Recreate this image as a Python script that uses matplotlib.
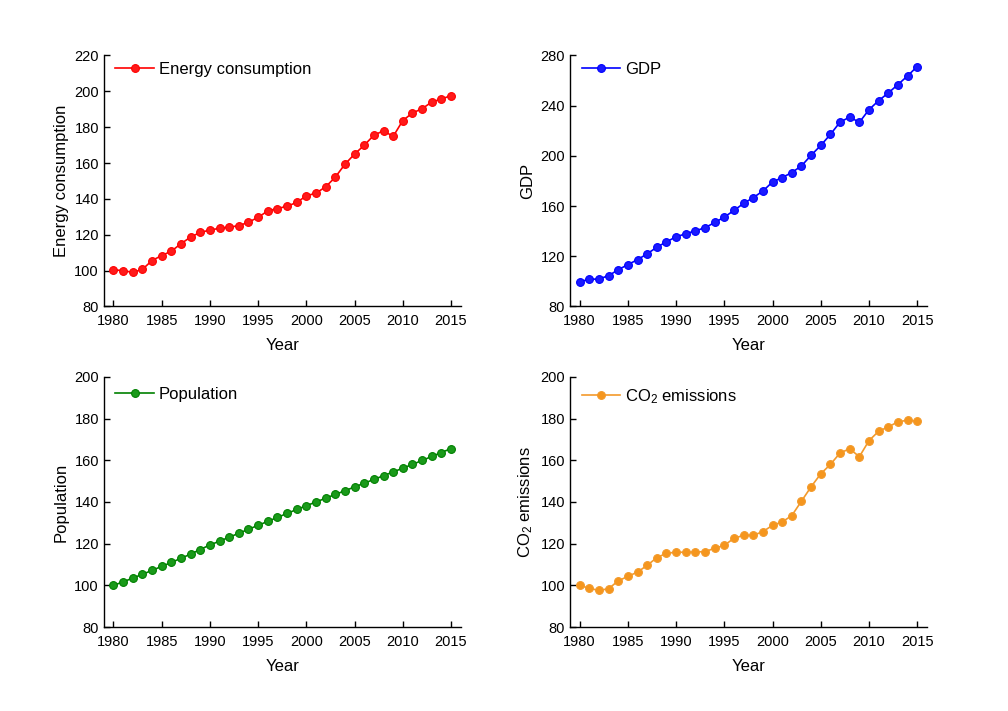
#!/usr/bin/env python3
"""Four panels: energy, GDP, population and CO2 indices, 1980-2015."""

import matplotlib.pyplot as plt

plt.rcParams["font.family"] = ["Liberation Sans", "DejaVu Sans"]
plt.rcParams["mathtext.default"] = "regular"

years = list(range(1980, 2016))

energy = [100.4, 100.0, 99.0, 100.7, 105.6, 108.4, 110.8, 115.0, 118.7, 121.3,
          122.6, 123.6, 124.3, 125.0, 127.0, 129.7, 133.3, 134.6, 135.9, 138.0,
          141.7, 143.2, 146.7, 152.1, 159.3, 165.0, 169.9, 175.5, 178.0, 174.8,
          183.7, 187.9, 190.3, 194.0, 195.7, 197.6]

gdp = [99.7, 101.6, 101.9, 104.5, 109.3, 113.3, 117.3, 121.9, 127.2, 131.5,
       135.5, 137.9, 140.3, 142.7, 146.9, 151.2, 156.5, 162.1, 166.7, 172.0,
       179.2, 182.7, 186.7, 192.0, 200.5, 208.3, 217.1, 226.9, 230.9, 226.7,
       236.8, 244.0, 250.1, 256.8, 263.7, 271.2]

population = [100.0, 101.7, 103.5, 105.3, 107.2, 109.1, 111.0, 113.0, 115.0, 117.2,
              119.4, 121.2, 123.1, 125.0, 126.9, 128.8, 130.7, 132.6, 134.5, 136.4,
              138.2, 140.0, 141.8, 143.6, 145.4, 147.2, 149.0, 150.8, 152.6, 154.4,
              156.2, 158.0, 159.9, 161.8, 163.7, 165.6]

co2 = [100.0, 98.6, 97.6, 98.4, 102.2, 104.3, 106.4, 109.6, 113.3, 115.4,
       115.9, 115.9, 116.0, 116.2, 117.8, 119.2, 122.6, 124.0, 124.0, 125.8,
       128.8, 130.4, 133.5, 140.4, 147.3, 153.5, 158.0, 163.5, 165.5, 161.7,
       169.4, 173.9, 176.0, 178.4, 179.2, 178.7]

x_ticks = [1980, 1985, 1990, 1995, 2000, 2005, 2010, 2015]

panels = [
    # (values, label, line colour, marker face, y ticks, axes rect, legend y)
    (energy, "Energy consumption", "#ff0000", "#ff1a1a",
     list(range(80, 221, 20)), [0.103, 0.569, 0.354, 0.353], 1.02),
    (gdp, "GDP", "#0000ff", "#1a1aff",
     list(range(80, 281, 40)), [0.5655, 0.569, 0.354, 0.353], 1.02),
    (population, "Population", "#008000", "#1a9a1a",
     list(range(80, 201, 20)), [0.103, 0.118, 0.354, 0.352], 1.005),
    (co2, "CO$_2$ emissions", "#f39a2b", "#f5961e",
     list(range(80, 201, 20)), [0.5655, 0.118, 0.354, 0.352], 1.005),
]


def main() -> None:
    fig = plt.figure(figsize=(10.08, 7.11), dpi=100)

    for values, label, color, face, yticks, rect, leg_y in panels:
        ax = fig.add_axes(rect)
        ax.plot(years, values, color=color, lw=1.2, marker="o", ms=5.6,
                mfc=face, mec=color, mew=0.8, label=label)
        ax.set_xlim(1979, 2016)
        ax.set_ylim(yticks[0], yticks[-1])
        ax.set_xticks(x_ticks)
        ax.set_yticks(yticks)
        ax.tick_params(direction="in", length=4, width=1, labelsize=10.5,
                       colors="black")
        ax.tick_params(axis="x", pad=5.5)
        for side in ("top", "right"):
            ax.spines[side].set_visible(False)
        for side in ("left", "bottom"):
            ax.spines[side].set_linewidth(1.0)
        ax.set_xlabel("Year", fontsize=12, labelpad=7.5)
        ax.set_ylabel(label, fontsize=12)
        ax.legend(loc="upper left", frameon=False, fontsize=12,
                  handlelength=2.3, handletextpad=0.3,
                  bbox_to_anchor=(0.0, leg_y), borderaxespad=0.3)

    fig.savefig("out.png", dpi=100, facecolor="white")
    plt.close(fig)


if __name__ == "__main__":
    main()
